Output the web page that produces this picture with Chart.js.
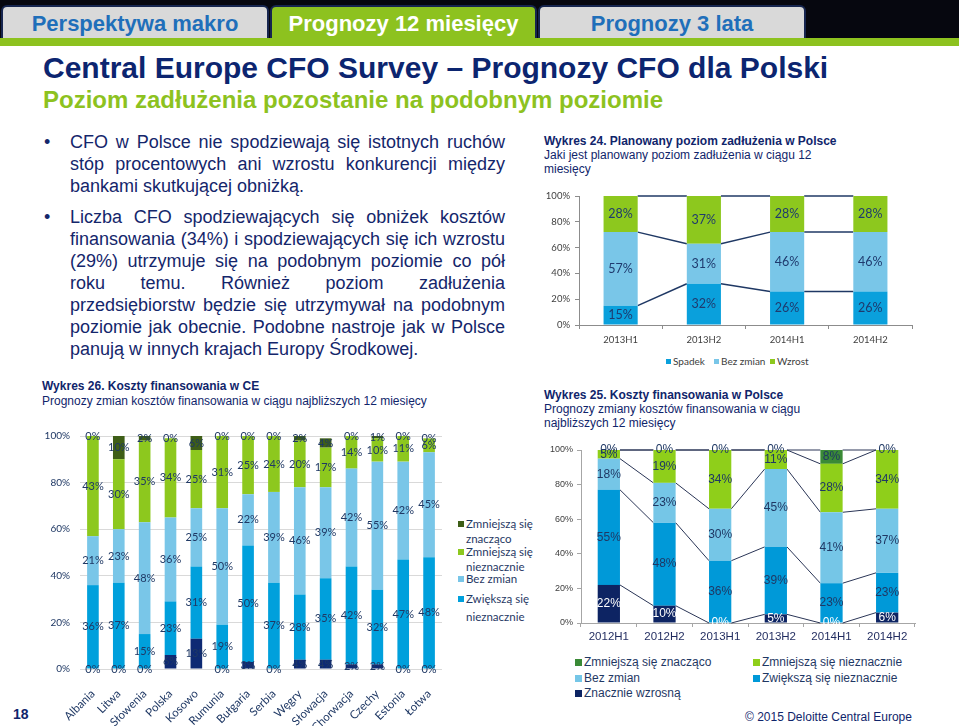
<!DOCTYPE html>
<html><head><meta charset="utf-8">
<script src="https://cdn.jsdelivr.net/npm/chart.js@4.4.0/dist/chart.umd.min.js"></script>
<style>
body{margin:0;width:959px;height:726px;position:relative;overflow:hidden;background:#fff;font-family:"Liberation Sans",Arial,sans-serif;color:#10256B}
.abs{position:absolute;white-space:nowrap}
.tab{position:absolute;top:5px;height:33px;box-sizing:border-box;border:2px solid #16254F;border-bottom:none;border-radius:6px 6px 0 0;background:#D9D9D9;color:#1F6FBA;font-weight:bold;font-size:22px;text-align:center;line-height:33px}
.jl{width:435px;text-align:justify;text-align-last:justify;height:22px;line-height:22px;white-space:nowrap;overflow:visible}
.ll{width:435px;text-align:left;height:22px;line-height:22px;white-space:nowrap}
.bul{font-size:18px;color:#14266B}
.ct{font-size:12px;line-height:14px;color:#10256B}
.lg{position:absolute;font-family:Lato,sans-serif;font-size:11.5px;color:#1F3864;white-space:nowrap;line-height:14px}
.bx{display:inline-block;width:6px;height:6px;margin-right:2px;vertical-align:1px}
.lg25{position:absolute;font-size:12px;color:#1F3864;white-space:nowrap;line-height:14px}
.bx25{display:inline-block;width:7px;height:7px;margin-right:2px;vertical-align:0px}
.cw{position:absolute}
</style></head>
<body>
<div class="abs" style="left:0;top:0;width:959px;height:40px;background:#06070f"></div>
<div class="abs" style="left:0;top:38px;width:959px;height:8px;background:#8DC21F"></div>
<div class="tab" style="left:1px;width:268px">Perspektywa makro</div>
<div class="tab" style="left:270px;width:267px;background:#8DC21F;color:#fff">Prognozy 12 miesięcy</div>
<div class="tab" style="left:538px;width:268px">Prognozy 3 lata</div>

<div class="abs" style="left:43px;top:51px;font-size:30px;line-height:34px;font-weight:bold;color:#0C2570">Central Europe CFO Survey – Prognozy CFO dla Polski</div>
<div class="abs" style="left:43px;top:86px;font-size:24px;line-height:28px;font-weight:bold;color:#8DC21F">Poziom zadłużenia pozostanie na podobnym poziomie</div>

<div class="abs bul" style="left:44px;top:131px;line-height:22px">•</div>
<div class="abs bul" style="left:70px;top:131px">
<div class="jl">CFO w Polsce nie spodziewają się istotnych ruchów</div>
<div class="jl">stóp procentowych ani wzrostu konkurencji między</div>
<div class="ll">bankami skutkującej obniżką.</div>
</div>
<div class="abs bul" style="left:44px;top:206px;line-height:22px">•</div>
<div class="abs bul" style="left:70px;top:206px">
<div class="jl">Liczba CFO spodziewających się obniżek kosztów</div>
<div class="jl">finansowania (34%) i spodziewających się ich wzrostu</div>
<div class="jl">(29%) utrzymuje się na podobnym poziomie co pół</div>
<div class="jl">roku temu. Również poziom zadłużenia</div>
<div class="jl">przedsiębiorstw będzie się utrzymywał na podobnym</div>
<div class="jl">poziomie jak obecnie. Podobne nastroje jak w Polsce</div>
<div class="ll">panują w innych krajach Europy Środkowej.</div>
</div>

<div class="abs ct" style="left:544px;top:134px"><b>Wykres 24. Planowany poziom zadłużenia w Polsce</b><br>Jaki jest planowany poziom zadłużenia w ciągu 12<br>miesięcy</div>
<div class="abs ct" style="left:42px;top:379px;line-height:15px"><b>Wykres 26. Koszty finansowania w CE</b><br>Prognozy zmian kosztów finansowania w ciągu najbliższych 12 miesięcy</div>
<div class="abs ct" style="left:544px;top:388px"><b>Wykres 25. Koszty finansowania w Polsce</b><br>Prognozy zmiany kosztów finansowania w ciągu<br>najbliższych 12 miesięcy</div>

<div class="cw" style="left:530px;top:185px;width:429px;height:165px"><canvas id="c24"></canvas></div>
<div class="cw" style="left:40px;top:420px;width:415px;height:306px"><canvas id="c26"></canvas></div>
<div class="cw" style="left:540px;top:440px;width:419px;height:210px"><canvas id="c25"></canvas></div>

<div id="lg24"></div>
<div id="lg26"></div>
<div id="lg25"></div>

<div class="abs" style="left:13px;top:706px;font-size:14px;line-height:16px;font-weight:bold;color:#10256B">18</div>
<div class="abs" style="left:745px;top:710px;font-size:12px;line-height:14px;color:#10256B">© 2015 Deloitte Central Europe</div>

<script>
// ---- Wykres 24 data ----
const debtPeriods = ['2013H1', '2013H2', '2014H1', '2014H2'];
const debtSpadek = [15, 32, 26, 26];
const debtBezZmian = [57, 31, 46, 46];
const debtWzrost = [28, 37, 28, 28];

// ---- Wykres 26 data ----
const ceCountries = ['Albania', 'Litwa', 'Słowenia', 'Polska', 'Kosowo', 'Rumunia', 'Bułgaria', 'Serbia', 'Węgry', 'Słowacja', 'Chorwacja', 'Czechy', 'Estonia', 'Łotwa'];
const ceZnacznieWzrosna = [0, 0, 0, 6, 13, 0, 3, 0, 4, 4, 2, 2, 0, 0];
const ceZwiekszaNieznacznie = [36, 37, 15, 23, 31, 19, 50, 37, 28, 35, 42, 32, 47, 48];
const ceBezZmian = [21, 23, 48, 36, 25, 50, 22, 39, 46, 39, 42, 55, 42, 45];
const ceZmniejszaNieznacznie = [43, 30, 35, 34, 25, 31, 25, 24, 20, 17, 14, 10, 11, 6];
const ceZmniejszaZnaczaco = [0, 10, 2, 0, 6, 0, 0, 0, 2, 4, 0, 1, 0, 0];

// ---- Wykres 25 data ----
const plPeriods = ['2012H1', '2012H2', '2013H1', '2013H2', '2014H1', '2014H2'];
const plZnacznieWzrosna = [22, 10, 0, 5, 0, 6];
const plZwiekszaNieznacznie = [55, 48, 36, 39, 23, 23];
const plBezZmian = [18, 23, 30, 45, 41, 37];
const plZmniejszaNieznacznie = [5, 19, 34, 11, 28, 34];
const plZmniejszaZnaczaco = [0, 0, 0, 0, 8, 0];

const pctTicks = [0, 20, 40, 60, 80, 100];

const segLabels = {
  id: 'segLabels',
  afterDatasetsDraw(chart, args, opts) {
    const ctx = chart.ctx;
    ctx.save();
    ctx.font = opts.font;
    ctx.textAlign = 'center';
    ctx.textBaseline = 'middle';
    chart.data.datasets.forEach((ds, i) => {
      if (!chart.isDatasetVisible(i)) return;
      ctx.fillStyle = ds.labelColor || opts.color;
      chart.getDatasetMeta(i).data.forEach((el, j) => {
        const v = ds.data[j];
        if (v == null) return;
        ctx.fillText(v + '%', el.x, (el.y + el.base) / 2);
      });
    });
    ctx.restore();
  }
};
const seriesLines = {
  id: 'seriesLines',
  beforeDatasetsDraw(chart, args, opts) {
    if (!opts || !opts.show) return;
    const ctx = chart.ctx;
    ctx.save();
    ctx.strokeStyle = opts.color;
    ctx.lineWidth = opts.width;
    chart.data.datasets.forEach((ds, i) => {
      const els = chart.getDatasetMeta(i).data;
      for (let j = 0; j < els.length - 1; j++) {
        const a = els[j], b = els[j + 1];
        ctx.beginPath();
        ctx.moveTo(a.x + a.width / 2, a.y);
        ctx.lineTo(b.x - b.width / 2, b.y);
        ctx.stroke();
      }
    });
    ctx.restore();
  }
};

function pct(v) { return v + '%'; }

// ---------- Wykres 24 ----------
const c24cols = ['#0AA0DC', '#79C6E8', '#8DC81E'];
new Chart(document.getElementById('c24'), {
  type: 'bar',
  data: {
    labels: debtPeriods,
    datasets: [
      { label: 'Spadek', data: debtSpadek, backgroundColor: c24cols[0] },
      { label: 'Bez zmian', data: debtBezZmian, backgroundColor: c24cols[1] },
      { label: 'Wzrost', data: debtWzrost, backgroundColor: c24cols[2] }
    ]
  },
  options: {
    responsive: true, maintainAspectRatio: false, animation: false,
    datasets: { bar: { categoryPercentage: 1, barPercentage: 0.41 } },
    layout: { padding: { left: 0, right: 47, top: 11, bottom: 0 } },
    plugins: {
      legend: { display: false }, tooltip: { enabled: false },
      segLabels: { font: '12.5px Lato', color: '#1F3A6E' },
      seriesLines: { show: true, color: '#1F3864', width: 1.5 }
    },
    scales: {
      x: { stacked: true, grid: { display: true, drawOnChartArea: false, tickLength: 4, color: '#8C8C8C' }, border: { color: '#8C8C8C' },
           ticks: { font: { family: 'Lato', size: 9.5 }, color: '#404040', padding: 5 }, afterFit(s) { s.height = 25; } },
      y: { stacked: true, min: 0, max: 100, afterBuildTicks(s) { s.ticks = pctTicks.map(v => ({ value: v })); },
           ticks: { callback: pct, font: { family: 'Lato', size: 9.5 }, color: '#404040', padding: 5 },
           grid: { display: true, drawOnChartArea: false, tickLength: 4, color: '#8C8C8C' }, border: { color: '#8C8C8C' },
           afterFit(s) { s.width = 49; } }
    }
  },
  plugins: [segLabels, seriesLines]
});

// ---------- Wykres 26 ----------
const ceCols = { znw: '#0E2A74', zwn: '#00A0DC', bz: '#79C6E8', zmn: '#8DC81E', zmz: '#3E5E17' };
new Chart(document.getElementById('c26'), {
  type: 'bar',
  data: {
    labels: ceCountries,
    datasets: [
      { label: 'Znacznie wzrosną', data: ceZnacznieWzrosna, backgroundColor: ceCols.znw },
      { label: 'Zwiększą się nieznacznie', data: ceZwiekszaNieznacznie, backgroundColor: ceCols.zwn },
      { label: 'Bez zmian', data: ceBezZmian, backgroundColor: ceCols.bz },
      { label: 'Zmniejszą się nieznacznie', data: ceZmniejszaNieznacznie, backgroundColor: ceCols.zmn },
      { label: 'Zmniejszą się znacząco', data: ceZmniejszaZnaczaco, backgroundColor: ceCols.zmz }
    ]
  },
  options: {
    responsive: true, maintainAspectRatio: false, animation: false,
    datasets: { bar: { categoryPercentage: 1, barPercentage: 0.45 } },
    layout: { padding: { left: 0, right: 13, top: 10, bottom: 0 } },
    plugins: {
      legend: { display: false }, tooltip: { enabled: false },
      segLabels: { font: '11px Lato', color: '#1F3864' },
      seriesLines: { show: false }
    },
    scales: {
      x: { stacked: true, grid: { display: false }, border: { display: false },
           ticks: { autoSkip: false, minRotation: 45, maxRotation: 45, font: { family: 'Lato', size: 11.5 }, color: '#1F3864', padding: 10 },
           afterFit(s) { s.height = 57; } },
      y: { stacked: true, min: 0, max: 100, afterBuildTicks(s) { s.ticks = pctTicks.map(v => ({ value: v })); },
           ticks: { callback: pct, font: { family: 'Lato', size: 10 }, color: '#1F3864', padding: 10 },
           grid: { color: '#D9D9D9', drawTicks: false }, border: { display: false },
           afterFit(s) { s.width = 40; } }
    }
  },
  plugins: [segLabels, seriesLines]
});

// ---------- Wykres 25 ----------
const plCols = { znw: '#0D2463', zwn: '#0099D8', bz: '#75C6E7', zmn: '#8FCF1A', zmz: '#3A8A36' };
new Chart(document.getElementById('c25'), {
  type: 'bar',
  data: {
    labels: plPeriods,
    datasets: [
      { label: 'Znacznie wzrosną', data: plZnacznieWzrosna, backgroundColor: plCols.znw, labelColor: '#FFFFFF' },
      { label: 'Zwiększą się nieznacznie', data: plZwiekszaNieznacznie, backgroundColor: plCols.zwn },
      { label: 'Bez zmian', data: plBezZmian, backgroundColor: plCols.bz },
      { label: 'Zmniejszą się nieznacznie', data: plZmniejszaNieznacznie, backgroundColor: plCols.zmn },
      { label: 'Zmniejszą się znacząco', data: plZmniejszaZnaczaco, backgroundColor: plCols.zmz }
    ]
  },
  options: {
    responsive: true, maintainAspectRatio: false, animation: false,
    datasets: { bar: { categoryPercentage: 1, barPercentage: 0.4 } },
    layout: { padding: { left: 0, right: 44, top: 10, bottom: 0 } },
    plugins: {
      legend: { display: false }, tooltip: { enabled: false },
      segLabels: { font: '12px "Liberation Sans"', color: '#1F3864' },
      seriesLines: { show: true, color: '#2A3556', width: 1 }
    },
    scales: {
      x: { stacked: true, grid: { display: true, drawOnChartArea: false, tickLength: 4, color: '#A6A6A6' }, border: { color: '#A6A6A6' },
           ticks: { font: { family: 'Liberation Sans', size: 11.5 }, color: '#1F2A5E', padding: 3 }, afterFit(s) { s.height = 27; } },
      y: { stacked: true, min: 0, max: 100, afterBuildTicks(s) { s.ticks = pctTicks.map(v => ({ value: v })); },
           ticks: { callback: pct, font: { family: 'Liberation Sans', size: 9 }, color: '#404040', padding: 4 },
           grid: { display: true, drawOnChartArea: false, tickLength: 4, color: '#A6A6A6' }, border: { color: '#A6A6A6' },
           afterFit(s) { s.width = 41; } }
    }
  },
  plugins: [segLabels, seriesLines]
});

// ---------- HTML legends ----------
function item(cls, bxcls, color, text, left, top) {
  return '<div class="' + cls + '" style="left:' + left + 'px;top:' + top + 'px"><span class="' + bxcls + '" style="background:' + color + '"></span>' + text + '</div>';
}
document.getElementById('lg24').innerHTML =
  '<div class="lg" style="left:666px;top:354px;font-size:10px;color:#404040"><span class="bx" style="width:5px;height:5px;background:' + c24cols[0] + '"></span>Spadek</div>' +
  '<div class="lg" style="left:714px;top:354px;font-size:10px;color:#404040"><span class="bx" style="width:5px;height:5px;background:' + c24cols[1] + '"></span>Bez zmian</div>' +
  '<div class="lg" style="left:770px;top:354px;font-size:10px;color:#404040"><span class="bx" style="width:5px;height:5px;background:' + c24cols[2] + '"></span>Wzrost</div>';
document.getElementById('lg26').innerHTML =
  item('lg', 'bx', ceCols.zmz, 'Zmniejszą się', 458, 517) + '<div class="lg" style="left:466px;top:532px">znacząco</div>' +
  item('lg', 'bx', ceCols.zmn, 'Zmniejszą się', 458, 545) + '<div class="lg" style="left:466px;top:560px">nieznacznie</div>' +
  item('lg', 'bx', ceCols.bz, 'Bez zmian', 458, 572) +
  item('lg', 'bx', ceCols.zwn, 'Zwiększą się', 458, 592) + '<div class="lg" style="left:466px;top:610px">nieznacznie</div>';
document.getElementById('lg25').innerHTML =
  item('lg25', 'bx25', plCols.zmz, 'Zmniejszą się znacząco', 575, 655) +
  item('lg25', 'bx25', plCols.zmn, 'Zmniejszą się nieznacznie', 753, 655) +
  item('lg25', 'bx25', plCols.bz, 'Bez zmian', 575, 671) +
  item('lg25', 'bx25', plCols.zwn, 'Zwiększą się nieznacznie', 753, 671) +
  item('lg25', 'bx25', plCols.znw, 'Znacznie wzrosną', 575, 686);
</script>
</body></html>
